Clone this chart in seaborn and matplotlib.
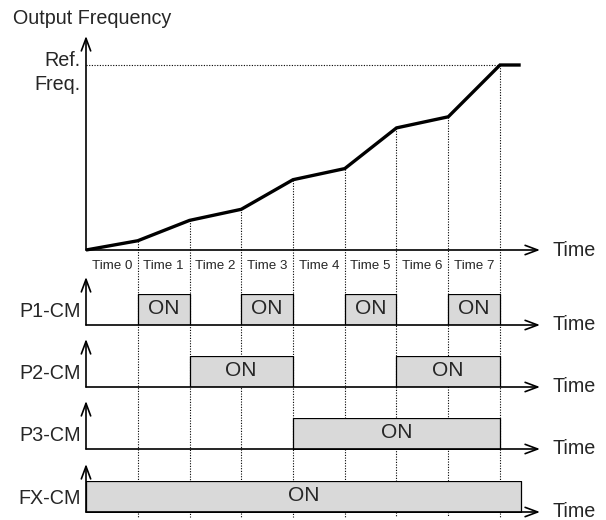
import matplotlib
matplotlib.use("Agg")
import matplotlib.pyplot as plt
import seaborn as sns
import pandas as pd

# ---------------- data ----------------
time_steps = [0, 1, 2, 3, 4, 5, 6, 7, 8]
out_freq = [0, 5, 16, 22, 38, 44, 66, 72, 100]   # % of reference frequency
hold_end = 8.4                                    # run continues at Ref. Freq.
interval_labels = ["Time 0", "Time 1", "Time 2", "Time 3",
                   "Time 4", "Time 5", "Time 6", "Time 7"]
signal_names = ["P1-CM", "P2-CM", "P3-CM", "FX-CM"]
p1_on = [(1, 2), (3, 4), (5, 6), (7, 8)]
p2_on = [(2, 4), (6, 8)]
p3_on = [(4, 8)]
fx_on = [(0, hold_end)]
signal_on = [p1_on, p2_on, p3_on, fx_on]
on_text = "ON"
y_title = "Output Frequency"
ref_label = ["Ref.", "Freq."]
x_title = "Time"

# ---------------- layout (pixels) ----------------
W, H = 606, 520
X_AXIS = 86.0
PX_PER_T = 51.75
ARROW_END_PX = 540
TIME_TXT_PX = 553
FREQ_TOP, FREQ_BASE = 65, 250
SIG_BASE = [325, 387, 449, 512]
BOX_H = 31
AX_LW = 1.2
GRAY = "#d9d9d9"
DOT = (0, (1, 1.4))
FS = 14.2
FS_ON = 15
FS_SMALL = 9.6

sns.set_theme(style="white")
plt.rcParams['font.family'] = ['Liberation Sans Narrow', 'Liberation Sans', 'DejaVu Sans']

fig = plt.figure(figsize=(W / 100, H / 100), dpi=100)


def to_t(px):
    return (px - X_AXIS) / PX_PER_T


XLIM = (to_t(0), to_t(W))


def add_panel(top_px, bot_px, ylim):
    ax = fig.add_axes([0, 1 - bot_px / H, 1, (bot_px - top_px) / H])
    ax.set_xlim(XLIM)
    ax.set_ylim(ylim)
    ax.axis('off')
    return ax


arrow_kw = dict(arrowstyle="->,head_length=0.75,head_width=0.28",
                color="black", lw=AX_LW, shrinkA=0, shrinkB=0)

# ---------------- frequency panel ----------------
axf = add_panel(FREQ_TOP, FREQ_BASE, (0, 100))
ppu = (FREQ_BASE - FREQ_TOP) / 100.0


def fy(px):
    return (FREQ_BASE - px) / ppu


df = pd.DataFrame({"t": time_steps + [hold_end], "f": out_freq + [out_freq[-1]]})
sns.lineplot(data=df, x="t", y="f", ax=axf, color="black", lw=2.4,
             clip_on=False, zorder=5, solid_joinstyle="miter", solid_capstyle="butt")
axf.axis('off')

# reference frequency dotted line
axf.plot([0, time_steps[-1]], [out_freq[-1], out_freq[-1]], color="black",
         lw=0.8, ls=DOT, clip_on=False, zorder=1)
# vertical dotted lines from curve down through all panels
for t, f in zip(time_steps[1:], out_freq[1:]):
    axf.plot([t, t], [f, fy(517)], color="black", lw=0.8, ls=DOT,
             clip_on=False, zorder=1)

# axes arrows
axf.annotate("", xy=(0, fy(36)), xytext=(0, 0), arrowprops=arrow_kw,
             annotation_clip=False)
axf.annotate("", xy=(to_t(ARROW_END_PX), 0), xytext=(0, 0), arrowprops=arrow_kw,
             annotation_clip=False)
axf.text(to_t(TIME_TXT_PX), fy(250), x_title, ha="left", va="center",
         fontsize=FS, clip_on=False)
axf.text(to_t(80), fy(60), ref_label[0], ha="right", va="center", fontsize=FS)
axf.text(to_t(80), fy(85), ref_label[1], ha="right", va="center", fontsize=FS)
fig.text(13 / W, 1 - 18 / H, y_title, ha="left", va="center", fontsize=FS)

for k, lab in enumerate(interval_labels):
    axf.text(k + 0.5, fy(266), lab, ha="center", va="center", fontsize=FS_SMALL,
             clip_on=False)

# ---------------- signal panels ----------------
for name, on, base in zip(signal_names, signal_on, SIG_BASE):
    ax = add_panel(base - BOX_H, base, (0, 1))
    ax.broken_barh([(s, e - s) for s, e in on], (0, 1), facecolors=GRAY,
                   edgecolors="black", linewidth=0.9, zorder=3)
    for s, e in on:
        ax.text((s + e) / 2, 0.52, on_text, ha="center", va="center",
                fontsize=FS_ON, zorder=4)
    ax.annotate("", xy=(0, 1 + 17 / BOX_H), xytext=(0, 0), arrowprops=arrow_kw,
                annotation_clip=False, zorder=5)
    ax.annotate("", xy=(to_t(ARROW_END_PX), 0), xytext=(0, 0), arrowprops=arrow_kw,
                annotation_clip=False, zorder=5)
    ax.text(to_t(81), 0.45, name, ha="right", va="center", fontsize=FS)
    ax.text(to_t(TIME_TXT_PX), 0.02, x_title, ha="left", va="center",
            fontsize=FS, clip_on=False)

fig.savefig("out.png", dpi=100)
